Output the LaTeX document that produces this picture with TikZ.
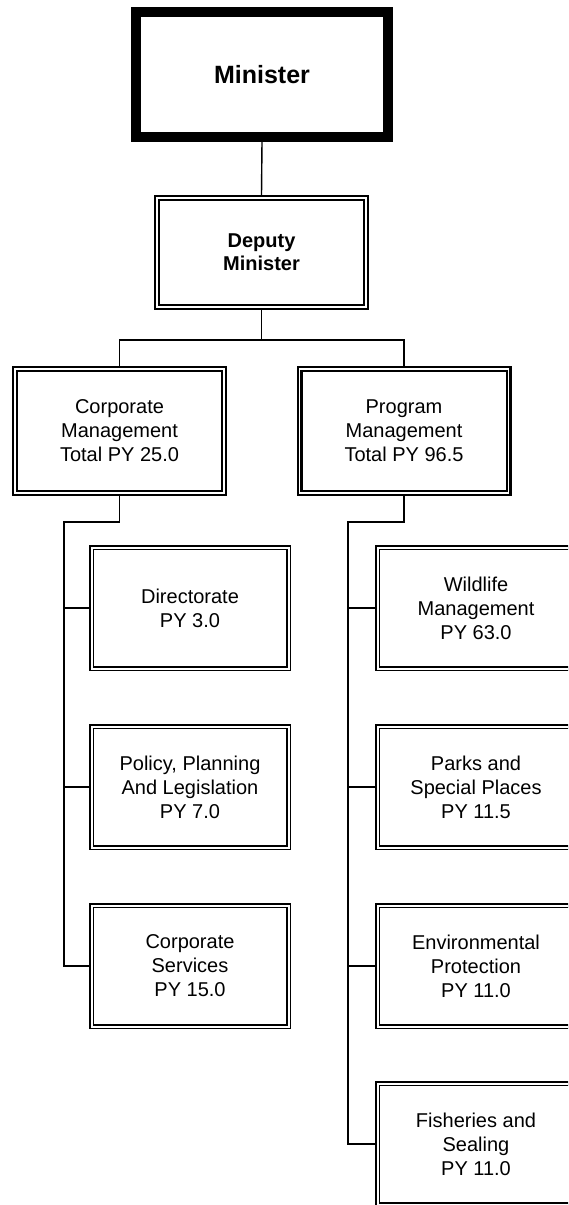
\documentclass[tikz,border=0pt]{standalone}
\usepackage{fontspec}
\setmainfont{Liberation Sans}
\begin{document}
\begin{tikzpicture}[x=1pt,y=-1pt,
  every node/.style={align=center,font=\fontsize{20}{24}\selectfont},
  topbox/.style={draw,line width=9.7pt,minimum width=252pt,minimum height=125pt,
    inner sep=0pt,outer sep=4.85pt,font=\fontsize{25}{29}\selectfont\bfseries},
  midbox/.style={draw,double,line width=2.3pt,double distance=1.4pt,
    minimum width=209pt,minimum height=124pt,inner sep=0pt,outer sep=3pt},
  unitbox/.style={draw,double,line width=1.5pt,double distance=2pt,
    minimum width=197pt,minimum height=121pt,inner sep=0pt,outer sep=2.5pt},
  link/.style={line width=1.4pt}]
\useasboundingbox (0,0) rectangle (568,1205);
\clip (0,0) rectangle (568,1205);

% top of the chart
\node[topbox] (min) at (262,74.5) {Minister};
\node[midbox,minimum height=109pt,font=\fontsize{20}{23}\selectfont\bfseries] (dep) at (261.5,252.5) {Deputy\\Minister};

% divisions
\node[midbox] (corp) at (119.5,431) {Corporate\\Management\\Total PY 25.0};
\node[midbox] (prog) at (404,431) {Program\\Management\\Total PY 96.5};

% corporate units
\node[unitbox] (dir) at (190,608) {Directorate\\PY 3.0};
\node[unitbox] (pol) at (190,787) {Policy, Planning\\And Legislation\\PY 7.0};
\node[unitbox] (csv) at (190,966) {Corporate\\Services\\PY 15.0};

% program units
\node[unitbox] (wld) at (476,608) {Wildlife\\Management\\PY 63.0};
\node[unitbox] (prk) at (476,787) {Parks and\\Special Places\\PY 11.5};
\node[unitbox] (env) at (476,966) {Environmental\\Protection\\PY 11.0};
\node[unitbox] (fsh) at (476,1144) {Fisheries and\\Sealing\\PY 11.0};

% connectors
\draw[link] (min.south) -- (dep.north);
\coordinate (bus) at (261.5,340);
\draw[link] (dep.south) -- (bus);
\draw[link] (corp.north) |- (bus) -| (prog.north);

\coordinate (lspine) at (64,522);
\draw[link] (corp.south) |- (lspine) |- (csv.west);
\draw[link] (lspine |- dir.west) -- (dir.west);
\draw[link] (lspine |- pol.west) -- (pol.west);

\coordinate (rspine) at (348,522);
\draw[link] (prog.south) |- (rspine) |- (fsh.west);
\draw[link] (rspine |- wld.west) -- (wld.west);
\draw[link] (rspine |- prk.west) -- (prk.west);
\draw[link] (rspine |- env.west) -- (env.west);
\end{tikzpicture}
\end{document}
